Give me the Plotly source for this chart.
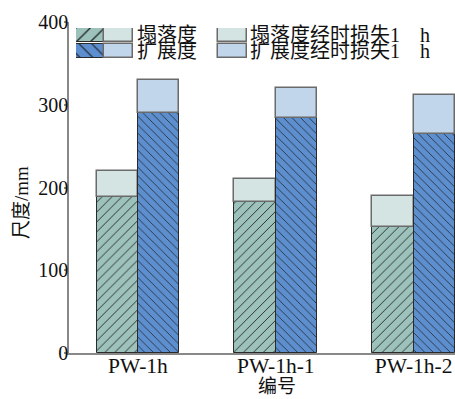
import plotly.graph_objects as go

# Sample codes and measured values (mm)
samples = ["PW-1h", "PW-1h-1", "PW-1h-2"]
slump = [188, 182, 152]            # 塌落度
slump_loss = [32, 28, 38]          # 塌落度经时损失1 h
spread = [290, 284, 265]           # 扩展度
spread_loss = [40, 36, 47]         # 扩展度经时损失1 h

y_ticks = [0, 100, 200, 300, 400]

C_SLUMP = "#9cc2bb"
C_SLUMP_L = "#d4e4e2"
C_SPREAD = "#5d8fcf"
C_SPREAD_L = "#c1d6ea"
EDGE_DARK = "#2a2a2a"
EDGE_GRAY = "#6a6a6a"
FONT = "Liberation Serif, Noto Sans CJK SC"

xs = list(range(len(samples)))
W = 0.3

fig = go.Figure()

def hatched(x, y, base, offset, color, shape, size, name):
    return go.Bar(x=x, y=y, base=base, offset=offset, width=W, name=name,
                  marker=dict(color=color, line=dict(color=EDGE_DARK, width=1),
                              pattern=dict(shape=shape, size=size, solidity=0.12,
                                           fgcolor="#1a1a1a", fgopacity=1)),
                  showlegend=False)

def plain(x, y, base, offset, color, name):
    return go.Bar(x=x, y=y, base=base, offset=offset, width=W, name=name,
                  marker=dict(color=color, line=dict(color=EDGE_GRAY, width=1.5)),
                  showlegend=False)

fig.add_trace(hatched(xs, slump, [0] * 3, -W, C_SLUMP, "/", 7, "塌落度"))
fig.add_trace(plain(xs, slump_loss, slump, -W, C_SLUMP_L, "塌落度经时损失1 h"))
fig.add_trace(hatched(xs, spread, [0] * 3, 0, C_SPREAD, "\\", 6, "扩展度"))
fig.add_trace(plain(xs, spread_loss, spread, 0, C_SPREAD_L, "扩展度经时损失1 h"))

# Legend drawn on its own small axes (pixel-like units): a hatched + light
# swatch for each measured quantity, and a light swatch for each 1 h loss.
legend_rows = [
    ("塌落度", "塌落度经时损失1\u2003h", C_SLUMP, C_SLUMP_L, "/", 7),
    ("扩展度", "扩展度经时损失1\u2003h", C_SPREAD, C_SPREAD_L, "\\", 6),
]
for i, (lab, lab_l, c, c_l, shp, sz) in enumerate(legend_rows):
    top = 28 + i * 16
    fig.add_trace(go.Bar(x=[90], y=[14], base=[top], width=28, xaxis="x2", yaxis="y2",
                         showlegend=False, hoverinfo="skip",
                         marker=dict(color=c, line=dict(color=EDGE_DARK, width=1),
                                     pattern=dict(shape=shp, size=sz + 3, solidity=0.12,
                                                  fgcolor="#1a1a1a", fgopacity=1))))
    fig.add_trace(go.Bar(x=[118.5, 232.5], y=[14, 14], base=[top, top], width=[29, 29],
                         xaxis="x2", yaxis="y2", showlegend=False, hoverinfo="skip",
                         marker=dict(color=c_l, line=dict(color=EDGE_GRAY, width=1.5))))
    fig.add_annotation(x=135, y=top + 7, xref="x2", yref="y2", text=lab, showarrow=False,
                       xanchor="left", yanchor="middle", font=dict(size=20, family=FONT, color="#111"))
    fig.add_annotation(x=248, y=top + 7, xref="x2", yref="y2", text=lab_l, showarrow=False,
                       xanchor="left", yanchor="middle", font=dict(size=20, family=FONT, color="#111"))

L, R, T, B = 69, 0, 22, 46
PW, PH = 455 - L - R, 399 - T - B

def px_x(p):
    return (p - L) / PW

def px_y(p):
    return (399 - B - p) / PH

fig.update_layout(
    width=455, height=399,
    margin=dict(l=L, r=R, t=T, b=B),
    barmode="overlay",
    bargap=0,
    plot_bgcolor="white", paper_bgcolor="white",
    font=dict(family=FONT, size=19, color="#111"),
    xaxis=dict(range=[-0.5, 2.3], tickvals=xs, ticktext=samples, showgrid=False,
               zeroline=False, showline=True, linecolor="#888", linewidth=1.5,
               ticks="", tickfont=dict(size=21.5), ticklabelstandoff=-8),
    yaxis=dict(range=[0, 400], tickvals=y_ticks, showgrid=False, zeroline=False,
               showline=True, linecolor="#888", linewidth=1.5, ticks="outside",
               ticklen=3, tickcolor="#888", tickwidth=1.5, tickfont=dict(size=20),
               ticklabelstandoff=-8),
    xaxis2=dict(domain=[px_x(76), 1], range=[76, 455], anchor="y2",
                visible=False, fixedrange=True),
    yaxis2=dict(domain=[px_y(58), px_y(28)], range=[58, 28], anchor="x2",
                visible=False, fixedrange=True),
    showlegend=False,
)

fig.add_annotation(x=px_x(21), y=px_y(203), xref="paper", yref="paper", text="尺度/mm",
                   xanchor="center", yanchor="middle", textangle=-90, showarrow=False,
                   font=dict(size=19, family=FONT, color="#111"))
fig.add_annotation(x=px_x(277), y=px_y(386), xref="paper", yref="paper", text="编号",
                   xanchor="center", yanchor="middle", showarrow=False,
                   font=dict(size=19, family=FONT, color="#111"))

fig.write_html("out.html")
